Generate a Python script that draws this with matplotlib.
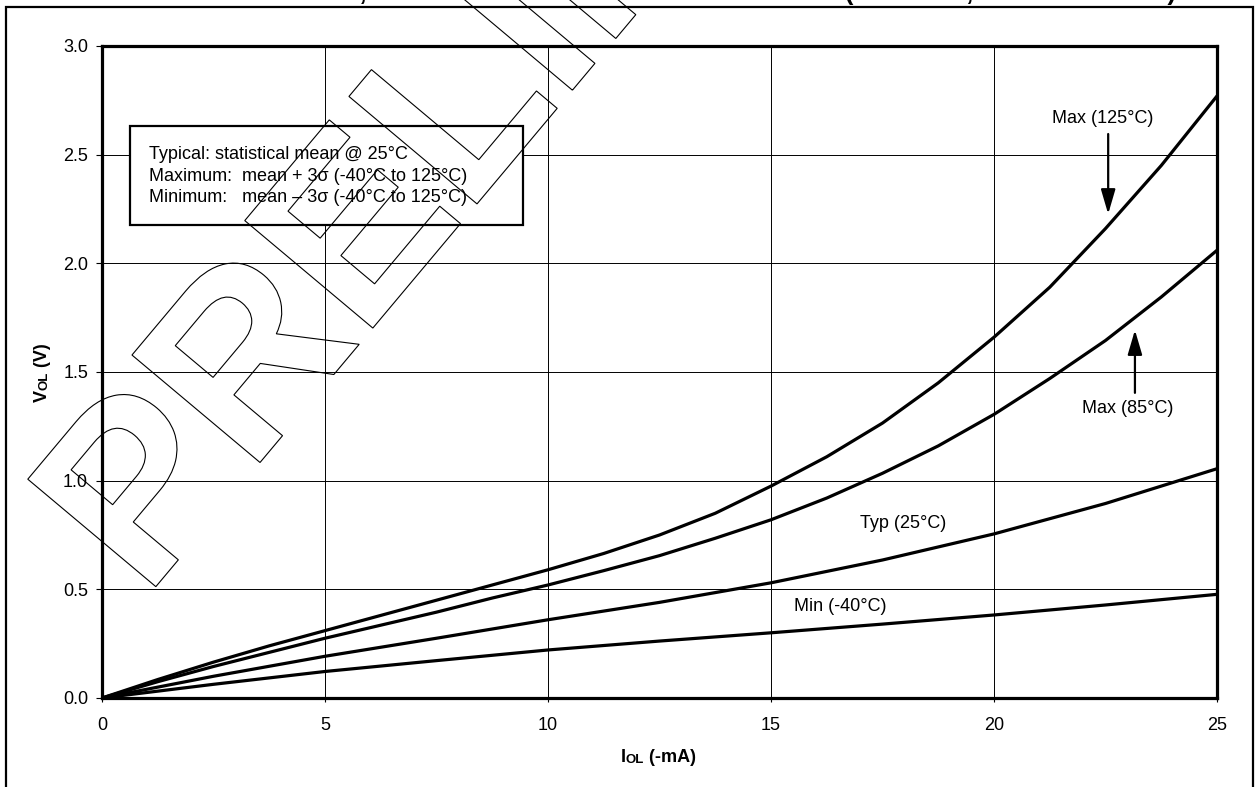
import numpy as np
import matplotlib
matplotlib.rcParams["font.family"] = ["Liberation Sans", "DejaVu Sans"]
matplotlib.rcParams["font.size"] = 13
import matplotlib.pyplot as plt
from matplotlib.patches import Rectangle, PathPatch
from matplotlib.textpath import TextPath
from matplotlib.font_manager import FontProperties
from matplotlib.transforms import Affine2D

# output current IOL (-mA)
iol_fine = [0, 1.25, 2.5, 3.75, 5, 6.25, 7.5, 8.75, 10, 11.25, 12.5,
            13.75, 15, 16.25, 17.5, 18.75, 20, 21.25, 22.5, 23.75, 25]
iol = [0, 2.5, 5, 7.5, 10, 12.5, 15, 17.5, 20, 22.5, 25]

# output voltage VOL (V)
vol_max125 = [0, 0.085, 0.165, 0.24, 0.31, 0.38, 0.45, 0.52, 0.59, 0.665, 0.75,
              0.85, 0.975, 1.11, 1.265, 1.45, 1.66, 1.89, 2.16, 2.45, 2.77]
vol_max85 = [0, 0.075, 0.145, 0.21, 0.275, 0.335, 0.395, 0.46, 0.52, 0.586, 0.655,
             0.735, 0.82, 0.92, 1.034, 1.16, 1.305, 1.47, 1.645, 1.845, 2.06]
vol_typ25 = [0, 0.10, 0.192, 0.275, 0.36, 0.44, 0.53, 0.635, 0.755, 0.895, 1.055]
vol_min40 = [0, 0.063, 0.122, 0.172, 0.221, 0.262, 0.30, 0.34, 0.382, 0.428, 0.477]

xticks = [0, 5, 10, 15, 20, 25]
yticks = [0.0, 0.5, 1.0, 1.5, 2.0, 2.5, 3.0]

W, H = 1257, 787
fig = plt.figure(figsize=(W / 100, H / 100), dpi=100)
ax = fig.add_axes([102 / W, (H - 698) / H, (1217 - 102) / W, (698 - 46) / H])

ax.plot(iol, vol_min40, color="black", lw=2.3, zorder=3)
ax.plot(iol, vol_typ25, color="black", lw=2.3, zorder=3)
ax.plot(iol_fine, vol_max85, color="black", lw=2.3, zorder=3)
ax.plot(iol_fine, vol_max125, color="black", lw=2.3, zorder=3)

ax.set_xlim(0, 25)
ax.set_ylim(0, 3.0)
ax.set_xticks(xticks)
ax.set_yticks(yticks)
ax.set_yticklabels(["%.1f" % t for t in yticks])
ax.grid(True, color="black", lw=0.7, zorder=0)
ax.set_axisbelow(True)
for s in ax.spines.values():
    s.set_linewidth(2.3)
ax.tick_params(axis="x", direction="out", length=3, width=0.8, pad=11, labelsize=13)
ax.tick_params(axis="y", direction="out", length=4, width=0.8, pad=6, labelsize=13)

# notes box
ax.add_patch(Rectangle((0.0251, 0.7255), 0.3525, 0.1518, transform=ax.transAxes,
                       facecolor="white", edgecolor="black", lw=1.6, zorder=4))
notes = ["Typical: statistical mean @ 25°C",
         "Maximum:  mean + 3σ (-40°C to 125°C)",
         "Minimum:   mean – 3σ (-40°C to 125°C)"]
for i, line in enumerate(notes):
    ax.text(0.042, 0.833 - i * 0.0325, line, transform=ax.transAxes,
            ha="left", va="center", fontsize=13, zorder=5)

# curve labels
arrow = dict(arrowstyle="-|>,head_length=0.75,head_width=0.22", color="black",
             lw=1.6, mutation_scale=20, shrinkA=0, shrinkB=0)
ax.text(22.44, 2.665, "Max (125°C)", ha="center", va="center", fontsize=13)
ax.annotate("", xy=(22.56, 2.227), xytext=(22.56, 2.595), arrowprops=arrow)
ax.text(23.0, 1.33, "Max (85°C)", ha="center", va="center", fontsize=13)
ax.annotate("", xy=(23.16, 1.693), xytext=(23.16, 1.404), arrowprops=arrow)
ax.text(17.96, 0.805, "Typ (25°C)", ha="center", va="center", fontsize=13)
ax.text(16.55, 0.423, "Min (-40°C)", ha="center", va="center", fontsize=13)

# axis labels with small-cap subscripts
t1 = fig.text(621 / W, (H - 766) / H, "I", fontsize=13, weight="bold",
              ha="left", va="bottom")
ol = plt.annotate("OL", xy=(1, 0), xycoords=t1, ha="left", va="bottom",
                  fontsize=9.5, weight="bold", annotation_clip=False)
plt.annotate(" (-mA)", xy=(1, 0), xycoords=ol, ha="left", va="bottom",
             fontsize=13, weight="bold", annotation_clip=False)

v1 = fig.text(51 / W, (H - 402) / H, "V", fontsize=13, weight="bold",
              rotation=90, ha="right", va="bottom")
vol = plt.annotate("OL", xy=(1, 1), xycoords=v1, ha="right", va="bottom",
                   fontsize=9.5, weight="bold", rotation=90, annotation_clip=False)
plt.annotate(" (V)", xy=(1, 1), xycoords=vol, ha="right", va="bottom",
             fontsize=13, weight="bold", rotation=90, annotation_clip=False)

# figure caption, cut off by the top of the page
fig.text(1176 / W, (H - 5) / H,
         "FIGURE 26-21:  VOL vs. IOL, OVER TEMPERATURE AND VOLTAGE (VDD = 5V, -40°C TO 125°C)",
         ha="right", va="bottom", fontsize=18.5, weight="bold")

# page frame
fig.add_artist(Rectangle((6, -10), 1247, H - 7 + 10, transform=None,
                         fill=False, edgecolor="black", lw=1.6, zorder=1))

# PRELIMINARY watermark outline
wm = TextPath((0, 0), "PRELIMINARY", size=243,
              prop=FontProperties(family="Liberation Sans", weight="bold"))
fig.add_artist(PathPatch(wm, transform=Affine2D().rotate_deg(50).translate(145.4, 187.9),
                         fill=False, edgecolor="black", lw=0.8, zorder=10))

plt.savefig("out.png", dpi=100)
